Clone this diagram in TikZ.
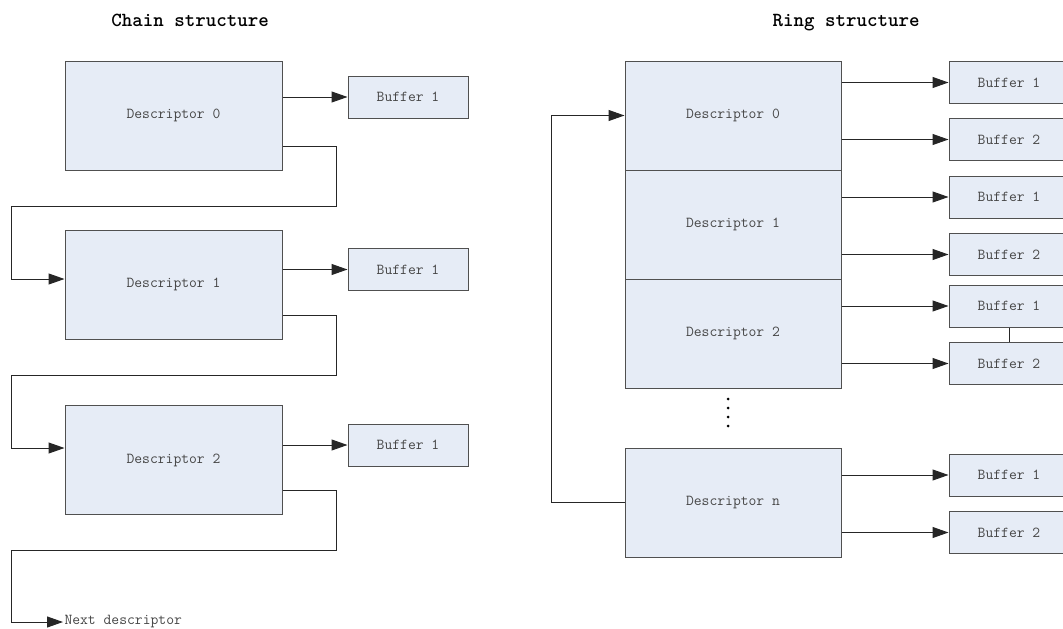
\documentclass[tikz,border=0pt]{standalone}
\usetikzlibrary{arrows.meta}
\usepackage{xcolor}
\definecolor{boxfill}{RGB}{230,236,246}
\definecolor{boxline}{RGB}{80,80,80}
\definecolor{txtgray}{RGB}{70,70,70}

\begin{document}
\begin{tikzpicture}[x=1pt,y=-1pt,line width=1pt,
  desc/.style={draw=boxline,fill=boxfill,minimum width=217pt,minimum height=109pt,inner sep=0pt,
    font=\ttfamily\fontsize{15.2}{18}\selectfont,text=txtgray},
  buf/.style={draw=boxline,fill=boxfill,minimum width=120pt,minimum height=42pt,inner sep=0pt,
    font=\ttfamily\fontsize{15.2}{18}\selectfont,text=txtgray},
  title/.style={anchor=base,font=\ttfamily\bfseries\fontsize{20}{24}\selectfont},
  arr/.style={-{Triangle[length=16pt,width=11pt]},black!85},
  link/.style={black!85}]

\useasboundingbox (0,0) rectangle (1063,629);

\node[title] (chaintitle) at (190,27) {Chain structure};
\node[title] (ringtitle) at (846,27) {Ring structure};

\foreach \i/\y in {0/115.5,1/284.5,2/460}
  \node[desc] (cd\i) at (173.5,\y) {Descriptor \i};
\foreach \i/\y in {0/97,1/269.5,2/445}{
  \node[buf] (cb\i) at (408,\y) {Buffer 1};
  \draw[arr] (cb\i.west -| cd\i.east) -- (cb\i.west);
}

\draw[arr] ([yshift=-30.5pt]cd0.east) -| (336,206) -- (11,206) |- ([yshift=5.5pt]cd1.west);
\draw[arr] ([yshift=-30.5pt]cd1.east) -| (336,375) -- (11,375) |- ([yshift=12pt]cd2.west);
\node[anchor=west,inner sep=1pt,font=\ttfamily\fontsize{15.2}{18}\selectfont,text=txtgray] (next) at (63,622) {Next descriptor};
\draw[arr] ([yshift=-30pt]cd2.east) -| (336,550) -- (11,550) |- (next.west);

\foreach \i/\y in {0/115.5,1/224.5,2/333.5}
  \node[desc,minimum width=216pt] (rd\i) at (733,\y) {Descriptor \i};
\node[desc,minimum width=216pt] (rdn) at (733,502.5) {Descriptor n};

\foreach \k/\d/\y/\n in {1/rd0/82.5/1,2/rd0/139.5/2,3/rd1/197/1,4/rd1/254.5/2,
                         5/rd2/306/1,6/rd2/363.5/2,7/rdn/475/1,8/rdn/532.5/2}{
  \node[buf] (rb\k) at (1009,\y) {Buffer \n};
  \draw[arr] (rb\k.west -| \d.east) -- (rb\k.west);
}
\draw[link] (rb5.south) -- (rb6.north);
\foreach \y in {399,408,417,426} \fill (728,\y) circle (1.5);

\draw[arr] (rdn.west) -- ++(-73,0) |- (rd0.west);

\end{tikzpicture}
\end{document}
